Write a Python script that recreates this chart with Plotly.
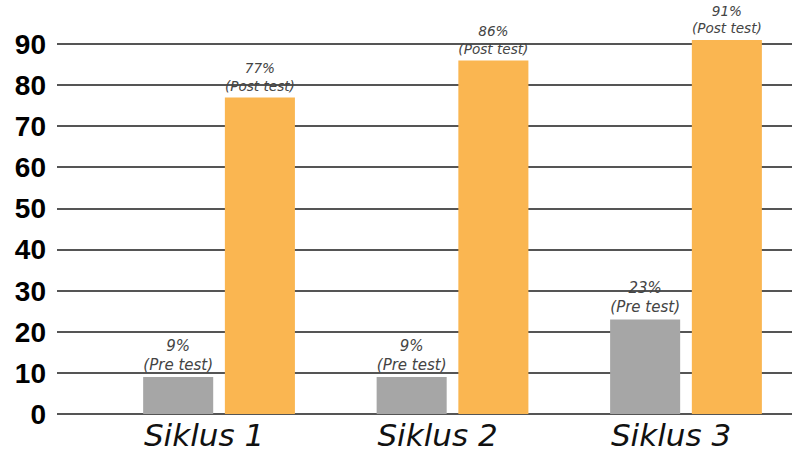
import plotly.graph_objects as go

categories = ["Siklus 1", "Siklus 2", "Siklus 3"]
pre_test = [9, 9, 23]
post_test = [77, 86, 91]
pre_label = "(Pre test)"
post_label = "(Post test)"
y_ticks = [0, 10, 20, 30, 40, 50, 60, 70, 80, 90]

x_idx = list(range(len(categories)))

fig = go.Figure()
fig.add_trace(go.Bar(
    x=x_idx, y=pre_test, width=0.3, offset=-0.325,
    marker=dict(color="#A6A6A6", line=dict(width=0)),
    text=[f"{v}%<br>{pre_label}" for v in pre_test],
    textposition="outside", cliponaxis=False,
    textfont=dict(family="DejaVu Sans", size=15, color="#444444", style="italic"),
    name="Pre test",
))
fig.add_trace(go.Bar(
    x=x_idx, y=post_test, width=0.3, offset=0.025,
    marker=dict(color="#FAB651", line=dict(width=0)),
    text=[f"{v}%<br>{post_label}" for v in post_test],
    textposition="outside", cliponaxis=False,
    textfont=dict(family="DejaVu Sans", size=15, color="#444444", style="italic"),
    name="Post test",
))

fig.update_layout(
    width=792, height=454,
    margin=dict(l=57, r=0, t=3, b=40),
    paper_bgcolor="white", plot_bgcolor="white",
    barmode="overlay", showlegend=False,
    xaxis=dict(
        range=[-0.694, 2.454], tickvals=x_idx, ticktext=categories,
        showgrid=False, zeroline=False, showline=False, ticks="",
        tickfont=dict(family="DejaVu Sans", size=31, color="#111111", style="italic"),
        ticklabelshift=-15, ticklabelstandoff=0, automargin=False,
    ),
    yaxis=dict(
        range=[0, 100], tickvals=y_ticks,
        showgrid=True, gridcolor="#555555", gridwidth=2,
        zeroline=True, zerolinecolor="#555555", zerolinewidth=2,
        showline=False, ticks="",
        tickfont=dict(family="Liberation Sans", size=28, color="#000000", weight="bold"),
        ticklabelstandoff=10, automargin=False,
    ),
)

fig.write_html("out.html")
